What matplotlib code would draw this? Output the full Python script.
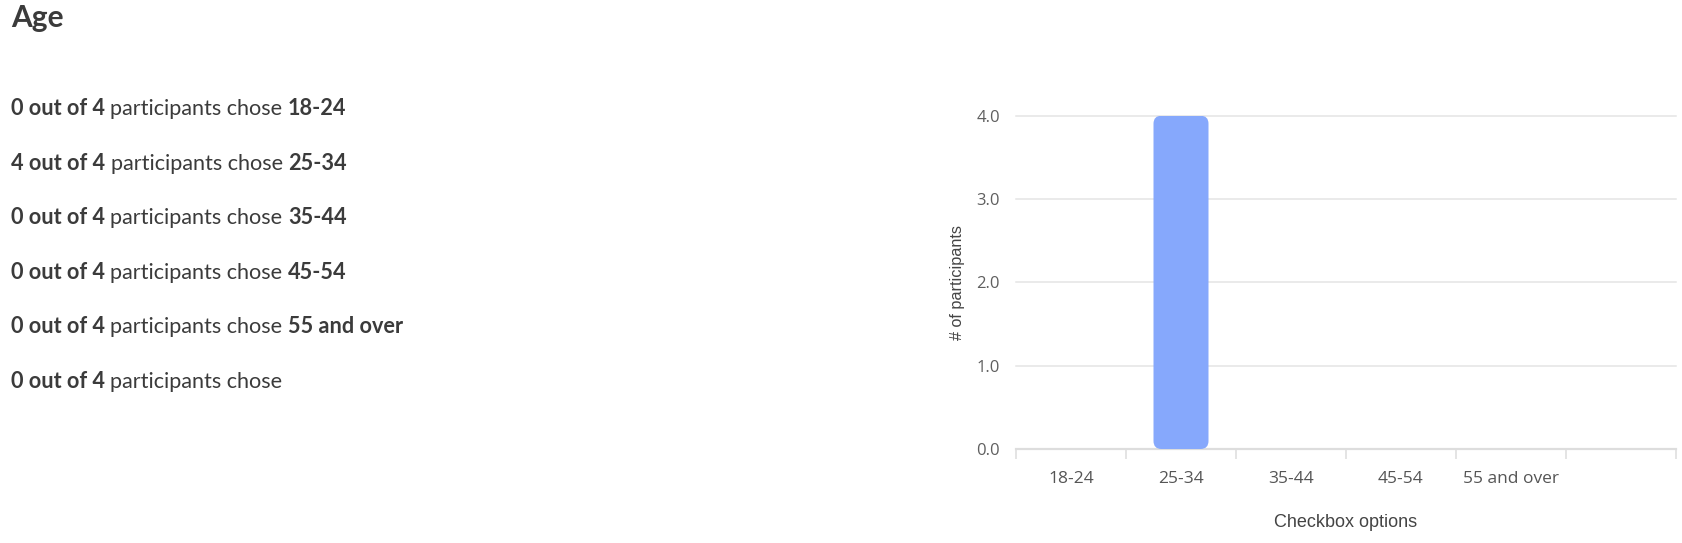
"""Age question summary: text breakdown plus bar chart of checkbox answers."""
import matplotlib

matplotlib.use("Agg")
import matplotlib.pyplot as plt
from matplotlib.patches import FancyBboxPatch
from matplotlib.ticker import FixedLocator, NullFormatter

W, H = 1683, 543
DPI = 100

TITLE = "Age"
CATEGORIES = ["18-24", "25-34", "35-44", "45-54", "55 and over", ""]
COUNTS = [0, 4, 0, 0, 0, 0]
TOTAL = 4
Y_TICKS = [0.0, 1.0, 2.0, 3.0, 4.0]
X_LABEL = "Checkbox options"
Y_LABEL = "# of participants"

TEXT_COLOR = "#3b3b3b"
TICK_COLOR = "#555555"
GRID_COLOR = "#e4e4e4"
BAR_COLOR = "#86a8fc"
TEXT_FONT = ["Lato", "DejaVu Sans"]
TICK_FONT = ["Open Sans", "DejaVu Sans"]
LABEL_FONT = ["Liberation Sans", "DejaVu Sans"]


def px(x, y):
    """Pixel position from the top-left corner -> figure fraction."""
    return x / W, 1 - y / H


def draw_rich_line(fig, renderer, x_px, y_px, parts, size):
    # parts are (text, bold) pairs, joined by single spaces
    probe = fig.text(0, 0, "x x", fontsize=size, family=TEXT_FONT)
    probe2 = fig.text(0, 0, "xx", fontsize=size, family=TEXT_FONT)
    space = probe.get_window_extent(renderer).width - probe2.get_window_extent(renderer).width
    probe.remove()
    probe2.remove()

    x = x_px
    for text, bold in parts:
        if not text:
            continue
        t = fig.text(*px(x, y_px), text, fontsize=size, family=TEXT_FONT,
                     fontweight="bold" if bold else "normal",
                     color=TEXT_COLOR, va="baseline", ha="left")
        x += t.get_window_extent(renderer).width + space


def main() -> None:
    fig = plt.figure(figsize=(W / DPI, H / DPI), dpi=DPI)
    renderer = fig.canvas.get_renderer()

    fig.text(*px(11, 27), TITLE, fontsize=21.5, fontweight="bold",
             family=TEXT_FONT, color=TEXT_COLOR, va="baseline", ha="left")

    for i, (cat, n) in enumerate(zip(CATEGORIES, COUNTS)):
        parts = [(f"{n} out of {TOTAL}", True), ("participants chose", False), (cat, True)]
        draw_rich_line(fig, renderer, 11, 115 + i * 54.6, parts, 15.6)

    # chart area
    left, right, top, bottom = 1016, 1676, 115.7, 449
    ax = fig.add_axes([left / W, 1 - bottom / H, (right - left) / W, (bottom - top) / H])
    xs = list(range(len(CATEGORIES)))
    bars = ax.bar(xs, COUNTS, width=0.5, color=BAR_COLOR)

    ax.set_xlim(-0.5, len(CATEGORIES) - 0.5)
    ax.set_ylim(0, max(Y_TICKS))

    # swap bars for rounded ones
    x_unit = (right - left) / len(CATEGORIES)
    y_unit = (bottom - top) / max(Y_TICKS)
    radius = 8 / x_unit
    for rect in bars:
        h = rect.get_height()
        rect.set_visible(False)
        if h <= 0:
            continue
        ax.add_patch(FancyBboxPatch(
            (rect.get_x(), rect.get_y()), rect.get_width(), h,
            boxstyle=f"round,pad=0,rounding_size={radius}",
            mutation_aspect=x_unit / y_unit,
            facecolor=BAR_COLOR, edgecolor="none", zorder=3))

    for side in ("top", "right", "left"):
        ax.spines[side].set_visible(False)
    ax.spines["bottom"].set_color("#dddddd")
    ax.spines["bottom"].set_linewidth(1.6)
    ax.spines["bottom"].set_zorder(2)

    ax.set_yticks(Y_TICKS)
    ax.set_yticklabels([f"{v:.1f}" for v in Y_TICKS])
    ax.tick_params(axis="y", length=0, pad=11.5, labelsize=12, labelcolor="#5f5f5f")
    ax.yaxis.grid(True, color=GRID_COLOR, linewidth=1.1)
    for line in ax.get_ygridlines():
        line.set_clip_on(False)
    ax.set_axisbelow(True)

    ax.set_xticks(xs)
    ax.set_xticklabels(CATEGORIES)
    ax.tick_params(axis="x", which="major", length=0, pad=15.5, labelsize=12.5, labelcolor=TICK_COLOR)
    ax.xaxis.set_minor_locator(FixedLocator([x - 0.5 for x in range(len(CATEGORIES) + 1)]))
    ax.xaxis.set_minor_formatter(NullFormatter())
    ax.tick_params(axis="x", which="minor", length=7.2, width=1.1, color="#dddddd")

    for lbl in ax.get_xticklabels() + ax.get_yticklabels():
        lbl.set_family(TICK_FONT)

    ax.set_xlabel(X_LABEL, fontsize=13, family=LABEL_FONT, color="#444444")
    ax.xaxis.set_label_coords(0.5, -0.195)
    ax.set_ylabel(Y_LABEL, fontsize=11.7, family=LABEL_FONT, color="#444444")
    ax.yaxis.set_label_coords(-0.078, 0.5)

    fig.savefig("out.png", dpi=DPI)


if __name__ == "__main__":
    main()
